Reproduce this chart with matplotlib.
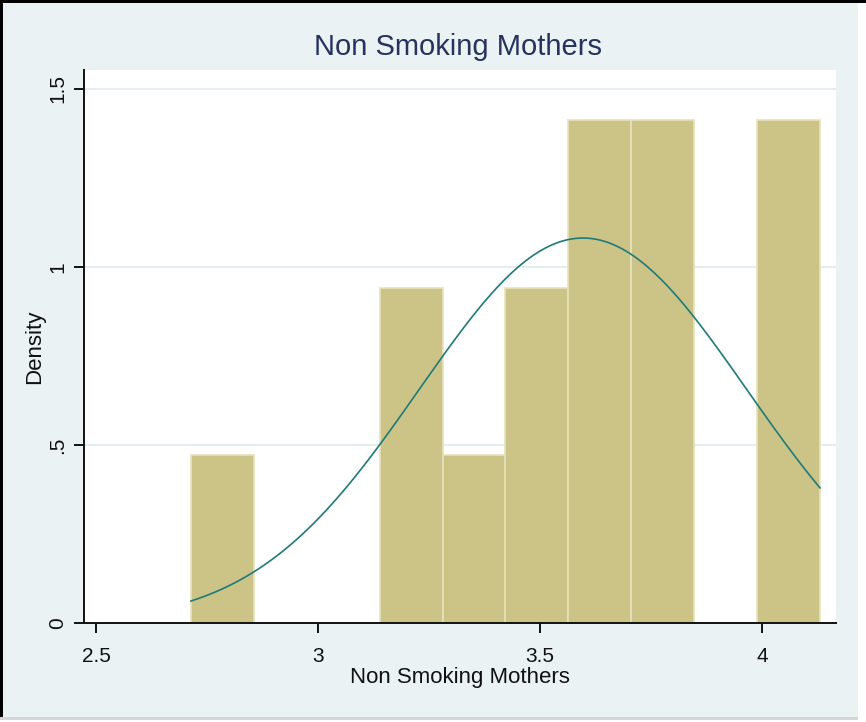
import numpy as np
import matplotlib
matplotlib.use("Agg")
import matplotlib.pyplot as plt
from matplotlib.patches import Rectangle

plt.rcParams['font.family'] = ['Liberation Sans', 'DejaVu Sans']

# Histogram of birth weights (kg), non-smoking mothers
bin_left = [2.714, 2.856, 2.997, 3.139, 3.281, 3.422, 3.564, 3.706, 3.847, 3.989]
bin_width = 0.1417
counts = [1, 0, 0, 2, 1, 2, 3, 3, 0, 3]
n_obs = 15

# Normal density overlay parameters
norm_mean = 3.597
norm_sd = 0.369
data_min, data_max = 2.714, 4.131

x_ticks = [2.5, 3, 3.5, 4]
x_ticklabels = ["2.5", "3", "3.5", "4"]
y_ticks = [0, 0.5, 1, 1.5]
y_ticklabels = ["0", ".5", "1", "1.5"]

W, H = 866, 722
fig = plt.figure(figsize=(W / 100, H / 100), dpi=100, facecolor="white")

# graph region background and frame
bg = "#EAF2F3"
fig.add_artist(Rectangle((0, 1 - 717 / H), 858 / W, 717 / H, transform=fig.transFigure,
                         facecolor=bg, edgecolor="none", zorder=0))
fig.add_artist(Rectangle((0, 1 - 3 / H), 1, 3 / H, transform=fig.transFigure,
                         facecolor="black", edgecolor="none", zorder=1))
fig.add_artist(Rectangle((0, 1 - 717 / H), 3 / W, 717 / H, transform=fig.transFigure,
                         facecolor="black", edgecolor="none", zorder=1))
fig.add_artist(Rectangle((0, 1 - 720 / H), 858 / W, 3 / H, transform=fig.transFigure,
                         facecolor="#D6D6D6", edgecolor="none", zorder=1))

ax = fig.add_axes([84 / W, 1 - 623 / H, (836 - 84) / W, (623 - 70) / H])
ax.set_facecolor("white")

density = [c / (n_obs * bin_width) for c in counts]
ax.bar(bin_left, density, width=bin_width, align="edge", color="#CCC486",
       edgecolor="#E6E2BC", linewidth=1.2, zorder=2)

xs = np.linspace(data_min, data_max, 300)
ys = np.exp(-0.5 * ((xs - norm_mean) / norm_sd) ** 2) / (norm_sd * np.sqrt(2 * np.pi))
ax.plot(xs, ys, color="#1F7A7A", linewidth=1.2, zorder=3)

ax.set_xlim(2.473, 4.167)
ax.set_ylim(0, 1.553)

for yv in y_ticks[1:]:
    ax.axhline(yv, color="#E4EEF0", linewidth=1.5, zorder=1)

for side in ("top", "right"):
    ax.spines[side].set_visible(False)
for side in ("left", "bottom"):
    ax.spines[side].set_linewidth(1.4)
    ax.spines[side].set_color("#111111")

ax.set_xticks(x_ticks)
ax.set_xticklabels(x_ticklabels)
ax.set_yticks(y_ticks)
ax.set_yticklabels(y_ticklabels, rotation=90, va="center")
ax.tick_params(axis="both", length=7, width=1.4, color="#111111",
               labelsize=15, labelcolor="#111111")
ax.tick_params(axis="x", pad=10)
ax.tick_params(axis="y", pad=5)

ax.set_xlabel("Non Smoking Mothers", fontsize=16, color="#111111", labelpad=1)
ax.set_ylabel("Density", fontsize=16, color="#111111", labelpad=2)

fig.text(458 / W, 1 - 47 / H, "Non Smoking Mothers", ha="center", va="center",
         fontsize=21, color="#26335F")

fig.savefig("out.png", dpi=100, facecolor=fig.get_facecolor())
